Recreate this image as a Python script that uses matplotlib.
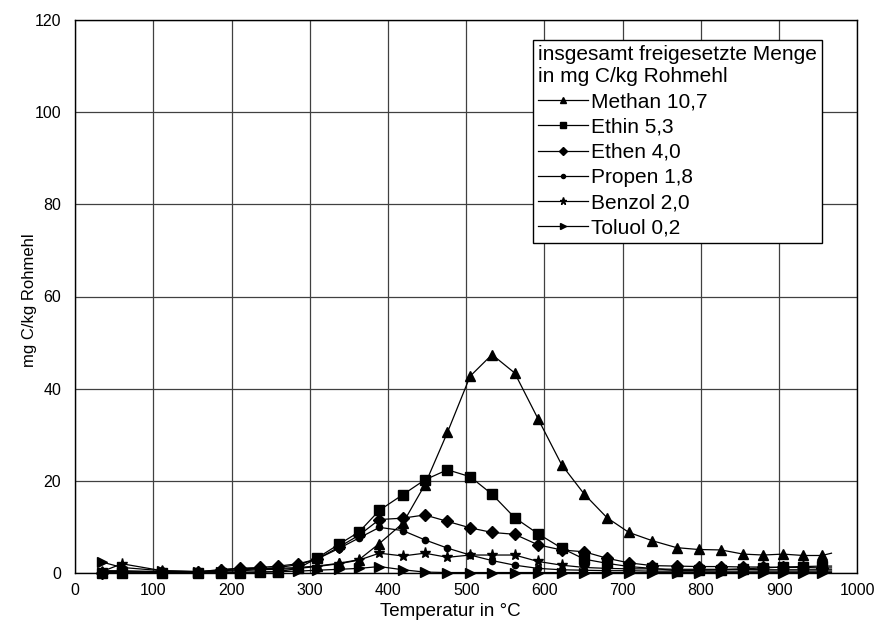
import matplotlib
matplotlib.use("Agg")
import matplotlib.pyplot as plt

plt.rcParams['font.family'] = ['Liberation Sans', 'DejaVu Sans']

temperature = [34, 60, 111, 157, 187, 211, 236, 260, 285, 309, 337, 363, 389, 419, 447,
               476, 505, 533, 562, 592, 622, 651, 680, 708, 738, 769, 797, 826, 854, 880,
               905, 931, 955, 967]

methan = [0.3, 0.3, 0.2, 0.2, 0.8, 1.0, 1.0, 1.0, 1.2, 1.5, 2.1, 2.9, 6.4, 10.8, 19.1,
          30.5, 42.7, 47.4, 43.4, 33.4, 23.5, 17.1, 12.0, 8.8, 7.0, 5.5, 5.1, 5.0, 4.1, 3.9,
          4.1, 3.8, 3.8, 4.3]
ethin = [0.0, 0.0, 0.1, 0.1, 0.1, 0.1, 0.2, 0.3, 1.0, 3.2, 6.2, 8.9, 13.6, 17.0, 20.2,
         22.4, 20.9, 17.1, 12.0, 8.5, 5.4, 3.0, 2.1, 1.4, 1.0, 0.5, 0.6, 0.7, 0.9, 1.1,
         1.3, 1.4, 1.5, 1.5]
ethen = [0.0, 0.2, 0.2, 0.3, 0.6, 1.0, 1.2, 1.5, 2.0, 3.0, 5.6, 8.2, 11.6, 11.9, 12.6,
         11.2, 9.8, 8.8, 8.4, 6.1, 5.0, 4.6, 3.2, 2.2, 1.6, 1.5, 1.4, 1.4, 1.3, 1.3,
         1.2, 1.2, 1.1, 1.1]
propen = [0.5, 0.5, 0.3, 0.3, 0.5, 0.7, 0.9, 1.2, 1.8, 3.0, 5.3, 7.6, 9.9, 9.2, 7.2,
          5.4, 3.9, 2.7, 1.7, 1.0, 0.7, 0.6, 0.5, 0.5, 0.4, 0.4, 0.4, 0.4, 0.4, 0.4,
          0.4, 0.4, 0.4, 0.4]
benzol = [0.3, 2.0, 0.5, 0.3, 0.4, 0.5, 0.7, 0.8, 1.0, 1.4, 2.0, 2.8, 4.3, 3.7, 4.3,
          3.4, 3.9, 3.9, 3.9, 2.5, 1.7, 1.2, 1.0, 0.9, 0.9, 0.8, 0.8, 0.8, 0.8, 0.7,
          0.7, 0.7, 0.7, 0.7]
toluol = [2.4, 1.2, 0.5, 0.3, 0.2, 0.2, 0.2, 0.3, 0.4, 0.6, 0.8, 1.0, 1.4, 0.7, 0.2,
          0.1, 0.1, 0.1, 0.1, 0.1, 0.1, 0.1, 0.1, 0.1, 0.1, 0.1, 0.1, 0.1, 0.1, 0.1,
          0.1, 0.1, 0.1, 0.1]

labels = ["Methan 10,7", "Ethin 5,3", "Ethen 4,0", "Propen 1,8", "Benzol 2,0", "Toluol 0,2"]
series = [methan, ethin, ethen, propen, benzol, toluol]
markers = ['^', 's', 'D', 'o', '*', '>']
msizes = [7.5, 7, 6, 4.5, 8, 7.5]

x_ticks = [0, 100, 200, 300, 400, 500, 600, 700, 800, 900, 1000]
y_ticks = [0, 20, 40, 60, 80, 100, 120]

fig = plt.figure(figsize=(8.75, 6.28), dpi=100)
ax = fig.add_axes([75.1 / 875, 55 / 628, 782.2 / 875, 553 / 628])

for vals, lab, m, ms in zip(series, labels, markers, msizes):
    ax.plot(temperature, vals, color='black', linewidth=0.9, marker=m, markersize=ms,
            markerfacecolor='black', markeredgecolor='black', label=lab,
            markevery=slice(0, len(temperature) - 1), zorder=3, clip_on=False)

ax.set_xlim(0, 1000)
ax.set_ylim(0, 120)
ax.set_xticks(x_ticks)
ax.set_yticks(y_ticks)
ax.tick_params(axis='both', length=0, labelsize=11.5)
ax.tick_params(axis='x', pad=7)
ax.tick_params(axis='y', pad=10)
ax.grid(True, color='#404040', linewidth=0.9)
ax.set_axisbelow(True)
for sp in ax.spines.values():
    sp.set_color('black')
    sp.set_linewidth(1.0)

fig.text(450 / 875, 1 - 612 / 628, "Temperatur in °C", fontsize=13.5,
         ha='center', va='center')
fig.text(30 / 875, 1 - 300 / 628, "mg C/kg Rohmehl", fontsize=12,
         ha='center', va='center', rotation=90)

handles, labs = ax.get_legend_handles_labels()
leg = ax.legend(handles, labs, loc='upper left', bbox_to_anchor=(0.585, 0.964),
                title="insgesamt freigesetzte Menge\nin mg C/kg Rohmehl",
                fontsize=15, title_fontsize=15, frameon=True, fancybox=False,
                edgecolor='black', framealpha=1, borderpad=0.25, labelspacing=0.3,
                handlelength=2.4, handletextpad=0.15, markerscale=0.65,
                alignment='left', borderaxespad=0)
leg.get_frame().set_linewidth(1.0)
leg.set_zorder(5)

fig.savefig("out.png", dpi=100)
